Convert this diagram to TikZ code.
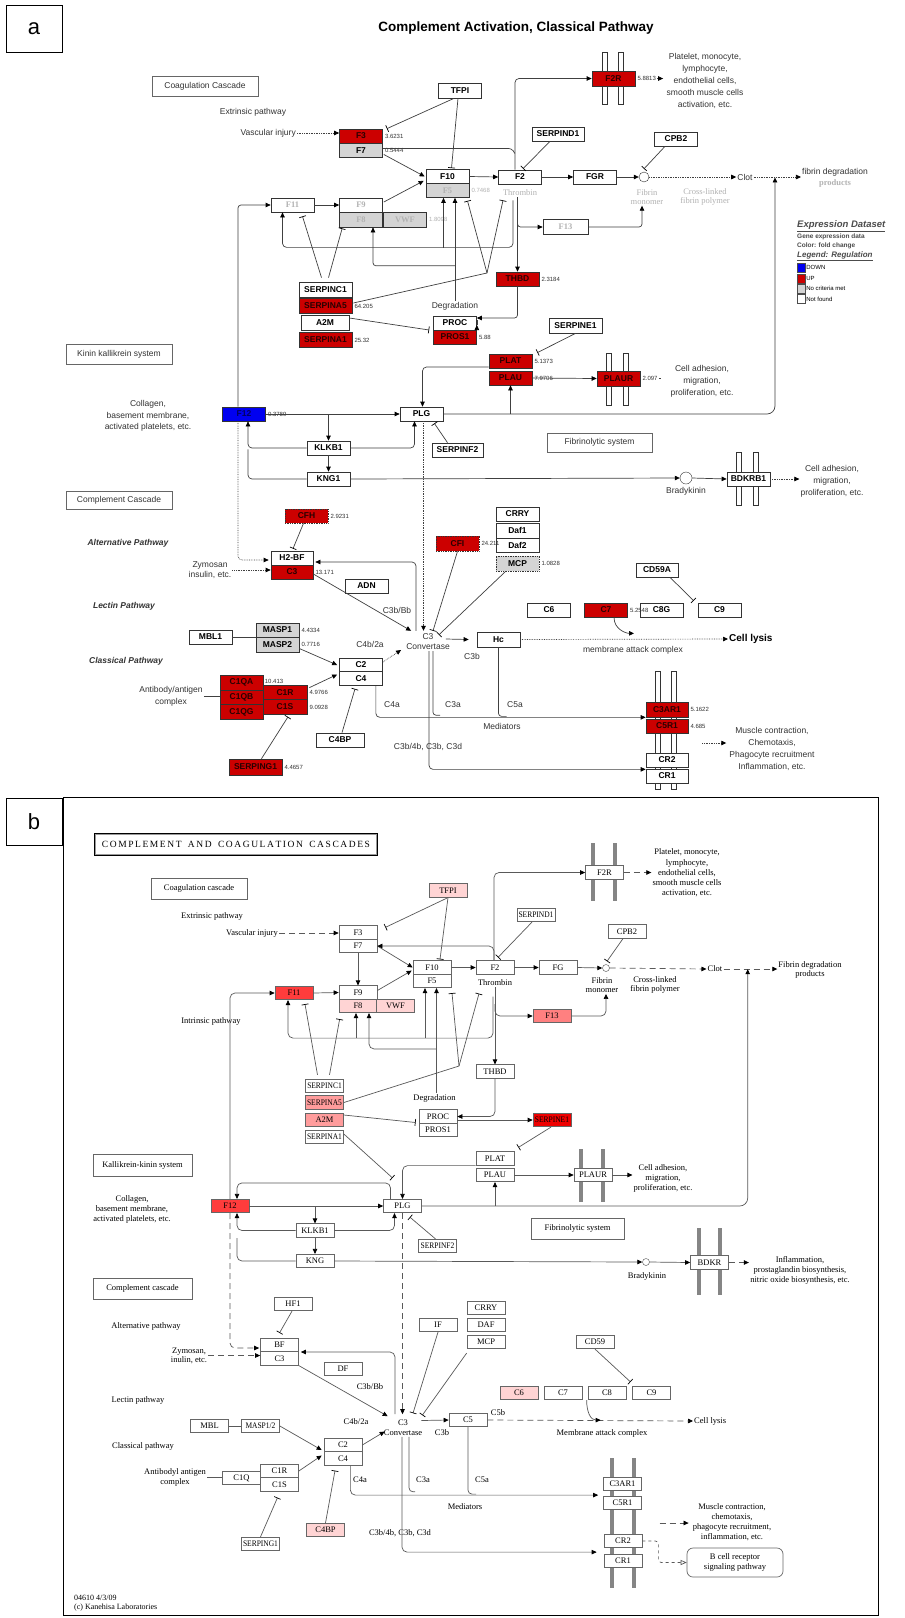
\documentclass[tikz,border=0pt]{standalone}
\usepackage{fontspec}
\setmainfont{Liberation Serif}
\setsansfont{Liberation Sans}
\usepackage{graphicx}
\usetikzlibrary{calc,arrows.meta,positioning}
\definecolor{upred}{HTML}{CC0000}
\definecolor{dnblue}{HTML}{0000F0}
\definecolor{ncgray}{HTML}{D4D4D4}
\definecolor{pkone}{HTML}{FFD4D4}
\definecolor{pktwo}{HTML}{FF9C9C}
\definecolor{pkthree}{HTML}{FF8080}
\definecolor{rdone}{HTML}{FF3C3C}
\definecolor{rdtwo}{HTML}{EE0000}
\definecolor{membar}{HTML}{858585}
\newcommand\fntA{\sffamily\fontsize{8.5}{11}\selectfont}
\newcommand\fntAb{\sffamily\bfseries\fontsize{8.5}{10}\selectfont}
\newcommand\fntV{\sffamily\fontsize{6}{7}\selectfont}
\newcommand\fntB{\rmfamily\fontsize{8.5}{9.6}\selectfont}
\newcommand\sqz[1]{\scalebox{0.88}[1]{#1}}
\tikzset{
  ga/.style={draw=black!80, fill=white, line width=0.7pt, font=\fntAb, text=black,
    minimum width=43pt, minimum height=14pt, inner sep=0pt},
  upreg/.style={fill=upred, text=black!80!upred},
  ncrit/.style={fill=ncgray},
  dnreg/.style={fill=dnblue, text=black!60!dnblue},
  dots/.style={densely dotted},
  garb/.style={text=gray!60, font=\rmfamily\bfseries\fontsize{8.5}{10}\selectfont},
  val/.style={font=\fntV, anchor=west, inner sep=1pt, xshift=1pt, text=black!80},
  atx/.style={font=\fntA, align=center, inner sep=1pt, text=black!80},
  sec/.style={draw=black!60, line width=0.7pt, font=\fntA, text=black!80, inner sep=0pt},
  mema/.style={draw=black!80, fill=white, line width=0.7pt},
  aln/.style={draw=black!75, line width=0.7pt},
  adot/.style={aln, densely dotted},
  act/.style={-{Triangle[length=5pt,width=4.5pt,color=black]}},
  inh/.style={-{Bar[width=7pt,color=black]}},
  gb/.style={draw=black!60, fill=white, line width=0.7pt, font=\fntB,
    minimum width=38pt, minimum height=13.5pt, inner sep=0pt},
  pkA/.style={fill=pkone}, pkB/.style={fill=pktwo}, pkC/.style={fill=pkthree},
  rdA/.style={fill=rdone}, rdB/.style={fill=rdtwo},
  btx/.style={font=\fntB, align=center, inner sep=1pt},
  bsec/.style={draw=black!60, line width=0.7pt, font=\fntB, inner sep=0pt},
  bln/.style={draw=black!65, line width=0.7pt},
  bdash/.style={bln, dash pattern=on 6pt off 4pt},
  memb/.style={fill=membar},
  lgh/.style={anchor=west, inner sep=0pt, text=gray!60!black},
  tagbox/.style={draw, line width=1pt, minimum width=56pt, minimum height=47pt,
    font=\sffamily\fontsize{22}{22}\selectfont}
}
\begin{document}
\begin{tikzpicture}[x=1pt,y=-1pt]
\fill[white] (0,0) rectangle (905,1618);
\useasboundingbox (0,0) rectangle (905,1618);

% ---------- panel a ----------
\node[tagbox] (aTag) at (34,28.5) {a};
\node[font=\sffamily\bfseries\fontsize{13.5}{14}\selectfont] (aTitle) at (516,28) {Complement Activation, Classical Pathway};

\foreach \x in {602,618} \draw[mema] (\x,52) rectangle ++(5,52);
\foreach \x in {606,623} \draw[mema] (\x,353) rectangle ++(5,52);
\foreach \x in {736,753} \draw[mema] (\x,452) rectangle ++(5,53);
\foreach \x in {655,671} \draw[mema] (\x,671) rectangle ++(5,118);

\node[sec, minimum width=106, minimum height=20] (aCoag) at (205,86) {Coagulation Cascade};
\node[sec, minimum width=106, minimum height=20] (aKin) at (119,354) {Kinin kallikrein system};
\node[sec, minimum width=105, minimum height=19] (aFibS) at (599.5,442.5) {Fibrinolytic system};
\node[sec, minimum width=106, minimum height=18] (aComp) at (119,500) {Complement Cascade};

\node[ga,upreg] (aF3) at (361,136) {F3};
\node[ga,ncrit] (aF7) at (361,150.5) {F7};
\node[ga,minimum height=15] (aTFPI) at (460,90.5) {TFPI};
\node[ga] (aF10) at (447.5,176.5) {F10};
\node[ga,ncrit,garb] (aF5) at (447.5,190.5) {F5};
\node[ga] (aF2) at (520,177) {F2};
\node[ga] (aFGR) at (595,177) {FGR};
\node[ga,minimum width=52] (aSERPIND1) at (558,134) {SERPIND1};
\node[ga] (aCPB2) at (676,139) {CPB2};
\node[ga,upreg,minimum height=15] (aF2R) at (613.5,78.5) {F2R};
\node[circle,draw=black!80,fill=white,minimum size=10pt,inner sep=0pt] (aFib) at (644,177) {};
\node[ga,garb] (aF11) at (292.5,205) {F11};
\node[ga,garb] (aF9) at (361,205) {F9};
\node[ga,ncrit,garb,minimum height=15] (aF8) at (361,219.5) {F8};
\node[ga,ncrit,garb,minimum height=15] (aVWF) at (405,219.5) {VWF};
\node[ga,garb,minimum width=45,minimum height=15] (aF13) at (565.5,227) {F13};
\node[ga,minimum width=53,minimum height=15] (aSERPINC1) at (325.5,289.5) {SERPINC1};
\node[ga,upreg,minimum width=53,minimum height=15] (aSERPINA5) at (325.5,306) {SERPINA5};
\node[ga,minimum width=48,minimum height=15] (aA2M) at (325,323) {A2M};
\node[ga,upreg,minimum width=53,minimum height=15] (aSERPINA1) at (325.5,340) {SERPINA1};
\node[ga,upreg] (aTHBD) at (517.5,279) {THBD};
\node[ga] (aPROC) at (455,323) {PROC};
\node[ga,upreg] (aPROS1) at (455,337) {PROS1};
\node[ga,minimum width=53,minimum height=15] (aSERPINE1) at (575.5,325.5) {SERPINE1};
\node[ga,upreg] (aPLAT) at (510.5,361) {PLAT};
\node[ga,upreg] (aPLAU) at (510.5,378) {PLAU};
\node[ga,upreg,minimum height=15] (aPLAUR) at (618.5,378.5) {PLAUR};
\node[ga,dnreg] (aF12) at (244,414) {F12};
\node[ga] (aPLG) at (421.5,414) {PLG};
\node[ga] (aKLKB1) at (328.5,448) {KLKB1};
\node[ga] (aKNG1) at (328.5,479) {KNG1};
\node[ga,minimum width=51] (aSERPINF2) at (457.5,450) {SERPINF2};
\node[circle,draw=black!80,fill=white,minimum size=12pt,inner sep=0pt] (aBrad) at (686,478) {};
\node[ga] (aBDKRB1) at (748.5,479) {BDKRB1};
\node[ga,upreg,dots] (aCFH) at (306.5,516) {CFH};
\node[ga,minimum width=42] (aH2BF) at (292,558) {H2-BF};
\node[ga,upreg,minimum width=42] (aC3) at (292,572) {C3};
\node[ga] (aADN) at (366.5,586) {ADN};
\node[ga,upreg,dots,minimum height=15] (aCFI) at (457.5,543.5) {CFI};
\node[ga] (aCRRY) at (517.5,514) {CRRY};
\node[ga,minimum height=15] (aDaf1) at (517.5,530.5) {Daf1};
\node[ga] (aDaf2) at (517.5,545) {Daf2};
\node[ga,ncrit,dots,minimum height=15] (aMCP) at (517.5,563.5) {MCP};
\node[ga,minimum height=15] (aHc) at (498.5,639.5) {Hc};
\node[ga] (aC6) at (549,610) {C6};
\node[ga,upreg] (aC7) at (606,610) {C7};
\node[ga] (aC8G) at (661.5,610) {C8G};
\node[ga] (aC9) at (719.5,610) {C9};
\node[ga,minimum width=42] (aCD59A) at (657,570) {CD59A};
\node[ga] (aMBL1) at (210.5,637) {MBL1};
\node[ga,ncrit] (aMASP1) at (277.5,630) {MASP1};
\node[ga,ncrit,minimum height=15] (aMASP2) at (277.5,644.5) {MASP2};
\node[ga] (aC2) at (361,665) {C2};
\node[ga] (aC4) at (361,678.5) {C4};
\node[ga,upreg,minimum height=15] (aC1QA) at (241.5,682.5) {C1QA};
\node[ga,upreg,minimum height=15] (aC1QB) at (241.5,697.5) {C1QB};
\node[ga,upreg,minimum height=15] (aC1QG) at (241.5,712) {C1QG};
\node[ga,upreg,minimum width=44,minimum height=15] (aC1R) at (285,692.5) {C1R};
\node[ga,upreg,minimum width=44,minimum height=15] (aC1S) at (285,707) {C1S};
\node[ga,upreg,minimum width=53,minimum height=16] (aSERPING1) at (255.5,767) {SERPING1};
\node[ga,minimum width=48] (aC4BP) at (340,740) {C4BP};
\node[ga,upreg,minimum width=42,minimum height=15] (aC3AR1) at (667,709.5) {C3AR1};
\node[ga,upreg,minimum width=42] (aC5R1) at (667,726) {C5R1};
\node[ga,minimum width=42] (aCR2) at (667,760) {CR2};
\node[ga,minimum width=42] (aCR1) at (667,776) {CR1};

\node[val] (vF3) at (aF3.east) {3.6231};
\node[val] (vF7) at (aF7.east) {0.5444};
\node[val,text=gray!60] (vF5) at (aF5.east) {0.7468};
\node[val,text=gray!60] (vVWF) at (aVWF.east) {1.8098};
\node[val] (vF2R) at (aF2R.east) {5.8813};
\node[val] (vTHBD) at (aTHBD.east) {2.3184};
\node[val] (vSERPINA5) at (aSERPINA5.east) {64.205};
\node[val] (vSERPINA1) at (aSERPINA1.east) {25.32};
\node[val] (vPROS1) at (aPROS1.east) {5.88};
\node[val] (vPLAT) at (aPLAT.east) {5.1373};
\node[val] (vPLAUR) at (aPLAUR.east) {2.097};
\node[val] (vF12) at (aF12.east) {0.3789};
\node[val] (vCFH) at (aCFH.east) {2.9231};
\node[val] (vC3) at (aC3.east) {13.171};
\node[val] (vCFI) at (aCFI.east) {24.211};
\node[val] (vMCP) at (aMCP.east) {1.0828};
\node[val] (vC7) at (aC7.east) {5.2548};
\node[val] (vMASP1) at (aMASP1.east) {4.4334};
\node[val] (vMASP2) at (aMASP2.east) {0.7716};
\node[val,anchor=south west] (vC1QA) at (aC1R.north west) {10.413};
\node[val] (vC1R) at (aC1R.east) {4.9766};
\node[val] (vC1S) at (aC1S.east) {9.0928};
\node[val] (vSERPING1) at (aSERPING1.east) {4.4657};
\node[val] (vC3AR1) at (aC3AR1.east) {5.1622};
\node[val] (vC5R1) at (aC5R1.east) {4.685};

\node[atx] (aExt) at (253,112) {Extrinsic pathway};
\node[atx,anchor=east] (aVI) at (297,133) {Vascular injury};
\node[atx,garb,font=\rmfamily\fontsize{8.5}{9}\selectfont] (aThr) at (520,193) {Thrombin};
\node[atx,garb,font=\rmfamily\fontsize{8.5}{9}\selectfont] (aFibT) at (647,197) {Fibrin\\monomer};
\node[atx,garb,font=\rmfamily\fontsize{8.5}{9}\selectfont] (aXL) at (705,197) {Cross-linked\\fibrin polymer};
\node[atx] (aClot) at (745,177) {Clot};
\node[atx,font=\sffamily\fontsize{8.5}{11}\selectfont] (aFDP) at (835,178) {fibrin degradation\\{\color{gray!60}\rmfamily\bfseries products}};
\node[atx,font=\sffamily\fontsize{8.5}{12}\selectfont] (aPlt) at (705,81) {Platelet, monocyte,\\lymphocyte,\\endothelial cells,\\smooth muscle cells\\activation, etc.};
\node[atx] (aDeg) at (455,306) {Degradation};
\node[atx,font=\sffamily\fontsize{8.5}{11.5}\selectfont] (aCol) at (148,416) {Collagen,\\basement membrane,\\activated platelets, etc.};
\node[atx] (aBradT) at (686,491) {Bradykinin};
\node[atx,font=\sffamily\fontsize{8.5}{12}\selectfont] (aCA1) at (702,381) {Cell adhesion,\\migration,\\proliferation, etc.};
\node[atx,font=\sffamily\fontsize{8.5}{12}\selectfont] (aCA2) at (832,481) {Cell adhesion,\\migration,\\proliferation, etc.};
\node[atx,font=\sffamily\bfseries\itshape\fontsize{8.5}{10}\selectfont] (aAlt) at (128,543) {Alternative Pathway};
\node[atx,font=\sffamily\bfseries\itshape\fontsize{8.5}{10}\selectfont] (aLec) at (124,606) {Lectin Pathway};
\node[atx,font=\sffamily\bfseries\itshape\fontsize{8.5}{10}\selectfont] (aCla) at (126,661) {Classical Pathway};
\node[atx,font=\sffamily\fontsize{8.5}{10}\selectfont] (aZym) at (210,570) {Zymosan\\insulin, etc.};
\node[atx] (aC3bBb) at (397,610) {C3b/Bb};
\node[atx] (aC4b2a) at (370,644) {C4b/2a};
\node[atx,font=\sffamily\fontsize{8.5}{10}\selectfont] (aConv) at (428,642) {C3\\Convertase};
\node[atx] (aC3b) at (472,656) {C3b};
\node[atx,anchor=west,font=\sffamily\bfseries\fontsize{10}{11}\selectfont,text=black] (aLysis) at (728,639) {Cell lysis};
\node[atx] (aMAC) at (633,650) {membrane attack complex};
\node[atx,font=\sffamily\fontsize{8.5}{12}\selectfont] (aAb) at (171,696) {Antibody/antigen\\complex};
\node[atx] (aC4a) at (392,705) {C4a};
\node[atx] (aC3a) at (453,705) {C3a};
\node[atx] (aC5a) at (515,705) {C5a};
\node[atx] (aMed) at (502,726) {Mediators};
\node[atx] (aC3d) at (428,747) {C3b/4b, C3b, C3d};
\node[atx,font=\sffamily\fontsize{8.5}{12}\selectfont] (aMus) at (772,749) {Muscle contraction,\\Chemotaxis,\\Phagocyte recruitment\\Inflammation, etc.};

% legend
\node[lgh,font=\sffamily\bfseries\itshape\fontsize{9.5}{10}\selectfont] (aLg1) at (797,226) {\underline{Expression Dataset}};
\node[lgh,font=\sffamily\bfseries\fontsize{6.5}{7}\selectfont] (aLg2) at (797,237) {Gene expression data};
\node[lgh,font=\sffamily\bfseries\fontsize{6.5}{7}\selectfont] (aLg3) at (797,246) {Color: fold change};
\node[lgh,font=\sffamily\bfseries\itshape\fontsize{8}{9}\selectfont] (aLg4) at (797,256) {\underline{Legend: Regulation}};
\foreach \c/\t [count=\i] in {dnblue/DOWN, upred/UP, ncgray/No criteria met, white/Not found} {
  \node[draw=black!70, fill=\c, minimum width=8pt, minimum height=9pt, inner sep=0pt] (aLk\i) at (801,257.5+10.4*\i) {};
  \node[right=1pt of aLk\i, inner sep=0pt, font=\sffamily\fontsize{6}{6}\selectfont] (aLt\i) {\t};
}

% connectors a
\draw[adot,act] (aVI.east) -- (aVI.east -| aF3.west);
\draw[aln,inh] ($(aTFPI.south)+(-6,0)$) -- ($(aF3.north east)+(4,0)$);
\draw[aln,inh] ($(aTFPI.south)+(-2,0)$) -- ($(aF10.north)+(4,-1)$);
\draw[aln,act] ($(aF7.east)+(1,4)$) -- ($(aF10.west)+(-1,0)$);
\draw[aln,rounded corners=3] ($(aF7.east)+(0,-2)$) -- ++(129,0) -- ++(3,5);
\draw[aln,act,rounded corners=4] ($(aF2.north)+(-5,0)$) |- (aF2R.west);
\draw[aln,act] (aF10.east) -- (aF2.west);
\draw[aln,act] (aF2.east) -- (aFGR.west);
\draw[aln,act] (aFGR.east) -- (aFib.west);
\draw[aln,inh] ($(aSERPIND1.south)+(-8,0)$) -- ($(aF2.north)+(3,-1)$);
\draw[aln,inh] ($(aCPB2.south)+(-11,0)$) -- ($(aFib.north)+(0,-3)$);
\draw[adot,act] (aFib.east) -- (aClot.west);
\coordinate (aClotJ) at ($(aClot.east)!0.45!(aFDP.west)$);
\draw[adot,act] (aClot.east) -- (aFDP.west |- aClot.east);
\draw[aln,act] ($(vF2R.east)+(0,0)$) -- ++(6,0);
\draw[aln,act] (aF11.east) -- (aF9.west);
\draw[aln,act] ($(aF9.east)+(1,-3)$) -- ($(aF10.south west)+(-2,-3)$);
\draw[aln,act,rounded corners=3] ($(aF12.north)+(-6,0)$) |- (aF11.west);
\draw[aln,act,rounded corners=4] ($(aF2.south)+(-7,16)$) |- ($(aF11.south)+(-10,35)$) -- ($(aF11.south)+(-10,0)$);
\draw[aln,act] ($(aF5.south)+(-4,50)$) -- ($(aF5.south)+(-4,0)$);
\draw[aln,act] (aDeg.north) -- (aDeg.north |- aF5.south);
\draw[aln,act,rounded corners=3] ($(aDeg.north)+(0,-35)$) -| ($(aF8.south)+(12,0)$);
\draw[aln,act,rounded corners=3] ($(aTHBD.north |- aF13.west)+(0,-9)$) |- (aF13.west);
\draw[aln,act,rounded corners=3] (aF13.east) -| ($(aFibT.south)+(-5,0)$);
\draw[aln,inh] ($(aSERPINC1.north)+(-4,-4)$) -- ($(aF11.south)+(10,4)$);
\draw[aln,inh] ($(aSERPINC1.north)+(3,-4)$) -- ($(aF8.south west)+(3,1)$);
\coordinate (aV) at (487,273);
\draw[aln] ($(aSERPINA5.east)+(1,-3)$) -- (aV);
\draw[aln,inh] (aV) -- ($(aF5.south)+(20,3)$);
\draw[aln,inh] (aV) -- ($(aF2.south)+(-17,16)$);
\draw[aln,inh] ($(aA2M.east)+(0,-5)$) -- ($(aPROS1.west)+(-4,-7)$);
\draw[aln,act] (aThr.south -| aTHBD.north) -- (aTHBD.north);
\draw[aln,act,rounded corners=3] (aTHBD.south) |- ($(aPROC.east)+(0,-5)$);
\draw[aln,act] ($(aPROC.east)+(0,2)$) -- ($(aPROC.east)+(0,2)$ -| aSERPINE1.west);
\draw[aln,inh] (aSERPINE1.south) -- ($(aPLAT.north east)+(5,-1)$);
\draw[aln,act] (aPLAU.east) -- (aPLAUR.west);
\node[val] (vPLAU) at (aPLAU.east) {7.9706};
\draw[adot] (vPLAUR.east) -- ++(3,0);
\draw[aln,act] (aF12.east) -- (aPLG.west);
\draw[aln,act,rounded corners=3] (aKLKB1.north |- aF12.east) -- (aKLKB1.north);
\draw[aln,act,rounded corners=4] (aKLKB1.west) -| ($(aF12.south)+(4,0)$);
\draw[aln,act,rounded corners=4] (aKLKB1.east) -| ($(aPLG.south)+(-7,0)$);
\draw[aln,act] (aKLKB1.south) -- (aKNG1.north);
\draw[aln,rounded corners=4] (aKNG1.west) -| ($(aF12.south)+(4,28)$);
\draw[aln,act] (aKNG1.east) -- (aBrad.west);
\draw[aln,act] (aBrad.east) -- (aBDKRB1.west);
\draw[adot,act] (aBDKRB1.east) -- (aCA2.west |- aBDKRB1.east);
\draw[aln,inh] ($(aSERPINF2.north)+(-10,0)$) -- ($(aPLG.south east)+(-9,2)$);
\draw[aln,act,rounded corners=4] ($(aPLAT.west)+(0,6)$) -| ($(aPLG.north)+(1,0)$);
\draw[aln,act,rounded corners=8] (aPLG.east) -| (aClotJ);
\draw[aln,act] (aPLAU.south |- aPLG.east) -- (aPLAU.south);
\draw[adot,act] ($(aPLG.south)+(2,0)$) -- ($(aPLG.south |- aConv.north)+(2,-2)$);
\draw[adot,act,rounded corners=4] ($(aF12.south)+(-6,0)$) |- ($(aH2BF.west)+(-2,2)$);
\draw[adot,act] (aZym.east) -- (aZym.east -| aC3.west);
\draw[aln,inh] ($(aCFH.south)+(-3,0)$) -- ($(aH2BF.north)+(1,-2)$);
\draw[aln,act] ($(aC3.east)+(0,2)$) -- ($(aConv.north west)+(6,-2)$);
\draw[aln,act,rounded corners=4] ($(aConv.north)+(-12,-2)$) |- ($(aH2BF.east)+(2,4)$);
\draw[aln,inh] (aCFI.south) -- ($(aConv.north)+(5,-2)$);
\draw[aln,inh] ($(aMCP.south west)+(10,0)$) -- ($(aConv.north east)+(-12,2)$);
\draw[aln,act] ($(aConv.east)+(-5,-3)$) -- ($(aHc.west)+(-8,0)$);
\draw[adot,act] (aHc.east) -- (aLysis.west);
\draw[aln,act] ($(aC7.south)+(8,0)$) .. controls +(0,12) and +(-8,0) .. ($(aC7.south)+(28,16)$);
\draw[aln,inh] ($(aCD59A.south)+(13,0)$) -- ($(aC9.north west)+(-4,-2)$);
\draw[aln] (aMBL1.east) -- (aMBL1.east -| aMASP1.west);
\draw[aln,act] ($(aMASP2.east)+(0,4)$) -- ($(aC2.west)+(-2,0)$);
\draw[aln,act] ($(aC1R.north east)+(2,3)$) -- ($(aC4.west)+(-2,-4)$);
\draw[aln,inh] ($(aSERPING1.north)+(6,0)$) -- ($(aC1S.south)+(3,2)$);
\draw[aln,inh] ($(aC4BP.north)+(2,0)$) -- ($(aC4.south)+(-6,3)$);
\draw[aln] (aAb.east) -- (aAb.east -| aC1QB.west);
\draw[adot,act] ($(aC2.east)+(0,-3)$) -- ($(aConv.west)+(-4,8)$);
\draw[aln,act,rounded corners=4] ($(aC4.south east)+(-7,0)$) |- (aC3AR1.south west);
\draw[aln,rounded corners=3] ($(aConv.south)+(5,0)$) |- ($(aConv.south)+(12,64)$);
\draw[aln,rounded corners=3] (aHc.south) |- ($(aHc.south)+(8,69)$);
\draw[aln,act,rounded corners=4] ($(aConv.south)+(1,0)$) |- ($(aCR2.south west)+(0,2)$);
\draw[adot,act] ($(aMus.west)+(-26,-6)$) -- ($(aMus.west)+(-2,-6)$);

% ---------- panel b ----------
\node[tagbox] (bTag) at (34,821.5) {b};
\draw[line width=0.9pt] (63,797) rectangle (878,1615);
\node[draw, line width=2pt, minimum width=282pt, minimum height=21pt,
  font=\rmfamily\fontsize{9.5}{10}\selectfont] (bTitle) at (236,844.5) {C\,O\,M\,P\,L\,E\,M\,E\,N\,T\,\ \ A\,N\,D\,\ \ C\,O\,A\,G\,U\,L\,A\,T\,I\,O\,N\,\ \ C\,A\,S\,C\,A\,D\,E\,S};
\draw[black!40, line width=0.5pt] ($(bTitle.north west)+(1.6,1.6)$) rectangle ($(bTitle.south east)+(-1.6,-1.6)$);

\foreach \x in {591,613} \fill[memb] (\x,843) rectangle ++(4,58);
\foreach \x in {579,601} \fill[memb] (\x,1149) rectangle ++(4,53);
\foreach \x in {697,718} \fill[memb] (\x,1228) rectangle ++(4,67);
\foreach \x in {610,632} \fill[memb] (\x,1458) rectangle ++(4,130);

\node[bsec, minimum width=96, minimum height=21] (bCoag) at (199,888.5) {Coagulation cascade};
\node[bsec, minimum width=99, minimum height=22] (bKin) at (142.5,1165) {Kallikrein-kinin system};
\node[bsec, minimum width=93, minimum height=21] (bFibS) at (577.5,1228.5) {Fibrinolytic system};
\node[bsec, minimum width=99, minimum height=21] (bComp) at (142.5,1288.5) {Complement cascade};

\node[gb] (bF3) at (358,932.5) {F3};
\node[gb] (bF7) at (358,946) {F7};
\node[gb,pkA] (bTFPI) at (448,890.5) {TFPI};
\node[gb] (bF10) at (432,967.5) {F10};
\node[gb] (bF5) at (432,981) {F5};
\node[gb] (bF2) at (495,967.5) {F2};
\node[gb] (bFG) at (558,967.5) {FG};
\node[gb] (bSERPIND1) at (536,915) {\sqz{SERPIND1}};
\node[gb] (bCPB2) at (627,931.5) {CPB2};
\node[gb] (bF2R) at (604.5,872.5) {F2R};
\node[circle,draw=black!70,fill=white,minimum size=7pt,inner sep=0pt] (bFib) at (606,968) {};
\node[gb] (bF9) at (358,992.5) {F9};
\node[gb,pkA] (bF8) at (358,1006) {F8};
\node[gb,pkA] (bVWF) at (395.5,1006) {VWF};
\node[gb,rdA] (bF11) at (294,993) {F11};
\node[gb,pkC] (bF13) at (552,1016) {F13};
\node[gb] (bTHBD) at (495,1071.5) {THBD};
\node[gb] (bSERPINC1) at (324.5,1086) {\sqz{SERPINC1}};
\node[gb,pkB] (bSERPINA5) at (324.5,1102.5) {\sqz{SERPINA5}};
\node[gb,pkB] (bA2M) at (324.5,1120) {A2M};
\node[gb] (bSERPINA1) at (324.5,1137) {\sqz{SERPINA1}};
\node[gb] (bPROC) at (438,1116.5) {PROC};
\node[gb] (bPROS1) at (438,1130) {PROS1};
\node[gb,rdB] (bSERPINE1) at (552,1120) {\sqz{SERPINE1}};
\node[gb] (bPLAT) at (495,1158.5) {PLAT};
\node[gb] (bPLAU) at (495,1175) {PLAU};
\node[gb] (bPLAUR) at (593,1175) {PLAUR};
\node[gb,rdA] (bF12) at (230,1206) {F12};
\node[gb] (bPLG) at (402.5,1206) {PLG};
\node[gb] (bKLKB1) at (315,1230.5) {KLKB1};
\node[gb] (bKNG) at (315,1261) {KNG};
\node[gb] (bSERPINF2) at (437.5,1246) {\sqz{SERPINF2}};
\node[circle,draw=black!70,fill=white,minimum size=7pt,inner sep=0pt] (bBrad) at (646,1262) {};
\node[gb] (bBDKR) at (709.5,1262.5) {BDKR};
\node[gb] (bHF1) at (293,1304) {HF1};
\node[gb] (bBF) at (279.5,1345) {BF};
\node[gb] (bC3) at (279.5,1358.5) {C3};
\node[gb] (bDF) at (343,1369) {DF};
\node[gb] (bIF) at (438,1325) {IF};
\node[gb] (bCRRY) at (486,1308) {CRRY};
\node[gb] (bDAF) at (486,1325) {DAF};
\node[gb] (bMCP) at (486,1342) {MCP};
\node[gb] (bC5) at (468,1420) {C5};
\node[gb,pkA] (bC6) at (519,1393) {C6};
\node[gb] (bC7) at (563,1393) {C7};
\node[gb] (bC8) at (607,1393) {C8};
\node[gb] (bC9) at (651.5,1393) {C9};
\node[gb] (bCD59) at (595,1342) {CD59};
\node[gb] (bMBL) at (209.5,1426) {MBL};
\node[gb] (bMASP) at (260.5,1426) {\sqz{MASP1/2}};
\node[gb] (bC2) at (343,1445) {C2};
\node[gb] (bC4) at (343,1458.5) {C4};
\node[gb] (bC1Q) at (241.5,1478) {C1Q};
\node[gb] (bC1R) at (279.5,1471) {C1R};
\node[gb] (bC1S) at (279.5,1484.5) {C1S};
\node[gb] (bSERPING1) at (260.5,1544) {\sqz{SERPING1}};
\node[gb,pkA] (bC4BP) at (325.5,1530) {C4BP};
\node[gb] (bC3AR1) at (622.5,1484) {C3AR1};
\node[gb] (bC5R1) at (622.5,1503) {C5R1};
\node[gb] (bCR2) at (623,1541) {CR2};
\node[gb] (bCR1) at (623,1561) {CR1};
\node[draw=black!60, line width=0.7pt, rounded corners=6pt, minimum width=96pt, minimum height=29pt,
  font=\fntB, align=center, inner sep=0pt] (bBcell) at (735,1562.5) {B cell receptor\\signaling pathway};

\node[btx] (bExt) at (212,916) {Extrinsic pathway};
\node[btx,anchor=east] (bVI) at (279,933) {Vascular injury};
\node[btx] (bInt) at (211,1021) {Intrinsic pathway};
\node[btx] (bThr) at (495,983) {Thrombin};
\node[btx,font=\rmfamily\fontsize{8.5}{9.5}\selectfont] (bFibT) at (602,985) {Fibrin\\monomer};
\node[btx,font=\rmfamily\fontsize{8.5}{9.5}\selectfont] (bXL) at (655,985) {Cross-linked\\fibrin polymer};
\node[btx] (bClot) at (715,969) {Clot};
\node[btx,font=\rmfamily\fontsize{8.5}{9}\selectfont] (bFDP) at (810,969.5) {Fibrin degradation\\products};
\node[btx,font=\rmfamily\fontsize{8.5}{10.2}\selectfont] (bPlt) at (687,873) {Platelet, monocyte,\\lymphocyte,\\endothelial cells,\\smooth muscle cells\\activation, etc.};
\node[btx] (bDeg) at (434.5,1098) {Degradation};
\node[btx,font=\rmfamily\fontsize{8.5}{10}\selectfont] (bCA) at (663,1178) {Cell adhesion,\\migration,\\proliferation, etc.};
\node[btx,font=\rmfamily\fontsize{8.5}{10}\selectfont] (bCol) at (132,1209) {Collagen,\\basement membrane,\\activated platelets, etc.};
\node[btx] (bBradT) at (647,1276) {Bradykinin};
\node[btx,font=\rmfamily\fontsize{8.5}{10}\selectfont] (bInf) at (800,1270) {Inflammation,\\prostaglandin biosynthesis,\\nitric oxide biosynthesis, etc.};
\node[btx] (bAlt) at (146,1326) {Alternative pathway};
\node[btx] (bLec) at (138,1400) {Lectin pathway};
\node[btx] (bCla) at (143,1446) {Classical pathway};
\node[btx,font=\rmfamily\fontsize{8.5}{9}\selectfont] (bZym) at (189,1355.5) {Zymosan,\\inulin, etc.};
\node[btx] (bC3bBb) at (370,1387) {C3b/Bb};
\node[btx] (bC4b2a) at (356,1422) {C4b/2a};
\node[btx,font=\rmfamily\fontsize{8.5}{10.5}\selectfont] (bConv) at (403,1427.5) {C3\\Convertase};
\node[btx] (bC3b) at (442,1433) {C3b};
\node[btx] (bC5b) at (498,1413) {C5b};
\node[btx,anchor=west] (bLysis) at (693,1421) {Cell lysis};
\node[btx] (bMAC) at (602,1433) {Membrane attack complex};
\node[btx,font=\rmfamily\fontsize{8.5}{10}\selectfont] (bAb) at (175,1477) {Antibodyl antigen\\complex};
\node[btx] (bC4a) at (360,1480) {C4a};
\node[btx] (bC3a) at (423,1480) {C3a};
\node[btx] (bC5a) at (482,1480) {C5a};
\node[btx] (bMed) at (465,1507) {Mediators};
\node[btx] (bC3d) at (400,1533) {C3b/4b, C3b, C3d};
\node[btx,font=\rmfamily\fontsize{8.5}{10}\selectfont] (bMus) at (732,1522) {Muscle contraction,\\chemotaxis,\\phagocyte recruitment,\\inflammation, etc.};
\node[btx,anchor=west,align=left,font=\rmfamily\fontsize{8}{9.5}\selectfont] (bFoot) at (73,1603) {04610 4/3/09\\(c) Kanehisa Laboratories};

% connectors b
\draw[bdash,act] (bVI.east) -- (bVI.east -| bF3.west);
\draw[bln,inh] (bTFPI.south) -- ($(bF3.north east)+(8,2)$);
\draw[bln,inh] (bTFPI.south) -- ($(bF10.north)+(8,-1)$);
\draw[bln,act] (bF7.east) -- (bF10.west);
\draw[bln,act,rounded corners=5] ($(bF2.north)+(-1,0)$) |- (bF2R.west);
\draw[bln,act,rounded corners=5] ($(bF2.north)+(-1,0)$) |- (bF7.east);
\draw[bln,act] (bF10.east) -- (bF2.west);
\draw[bln,act] (bF2.east) -- (bFG.west);
\draw[bln,act] (bFG.east) -- (bFib.west);
\draw[bln,inh] ($(bSERPIND1.south)+(-4,0)$) -- ($(bF2.north)+(3,-3)$);
\draw[bln,inh] ($(bCPB2.south)+(-4,0)$) -- ($(bFib.north)+(1,-3)$);
\draw[bdash,act] (bFib.east) -- (bClot.west);
\coordinate (bClotJ) at ($(bClot.east)!0.45!(bFDP.west)$);
\draw[bdash,act] (bClot.east) -- (bFDP.west |- bClot.east);
\draw[bdash,act] (bF2R.east) -- (bPlt.west |- bF2R.east);
\draw[bln,act] (bF7.south) -- (bF9.north);
\draw[bln,act] ($(bF9.east)+(0,-2)$) -- ($(bF10.south west)+(-1,-4)$);
\draw[bln,act] (bF11.east) -- (bF9.west);
\draw[bln,act,rounded corners=5] (bF12.north) |- (bF11.west);
\draw[bln,act,rounded corners=5] ($(bF2.south)+(-2,22)$) |- ($(bF11.south)+(-6,38)$) -- ($(bF11.south)+(-6,0)$);
\draw[bln,act] ($(bF8.south)+(-2,25)$) -- ($(bF8.south)+(-2,0)$);
\draw[bln,act] ($(bF5.south)+(-7,50)$) -- ($(bF5.south)+(-7,0)$);
\draw[bln,act] ($(bDeg.north)+(2,0)$) -- ($(bDeg.north |- bF5.south)+(2,0)$);
\draw[bln,act,rounded corners=5] ($(bDeg.north)+(2,-44)$) -| ($(bF8.south)+(11,0)$);
\draw[bln,act,rounded corners=5] ($(bTHBD.north |- bF13.west)+(0,-12)$) |- (bF13.west);
\draw[bln,act,rounded corners=5] (bF13.east) -| ($(bFibT.south)+(4,0)$);
\draw[bln,inh] ($(bSERPINC1.north)+(-7,-4)$) -- ($(bF11.south)+(11,4)$);
\draw[bln,inh] ($(bSERPINC1.north)+(5,-4)$) -- ($(bF8.south west)+(1,6)$);
\coordinate (bV) at (459,1066);
\draw[bln] (bSERPINA5.east) -- (bV);
\draw[bln,inh] (bV) -- ($(bF5.south)+(20,5)$);
\draw[bln,inh] (bV) -- ($(bF2.south)+(-16,19)$);
\draw[bln,inh] ($(bA2M.east)+(0,-5)$) -- ($(bPROC.west)+(-3,6)$);
\draw[bln,act] (bThr.south -| bTHBD.north) -- (bTHBD.north);
\draw[bln,act,rounded corners=5] (bTHBD.south) |- (bPROC.east);
\draw[bln,act] ($(bPROC.east)+(0,3.5)$) -- (bSERPINE1.west);
\draw[bln,inh] ($(bSERPINE1.south)+(-1,0)$) -- ($(bPLAT.north east)+(4,-4)$);
\draw[bln,act] (bPLAU.east) -- (bPLAUR.west);
\draw[bln,act] (bPLAUR.east) -- (bCA.west |- bPLAUR.east);
\draw[bln,inh] ($(bSERPINA1.east)+(0,-3)$) -- ($(bPLG.north)+(-10,-21)$);
\draw[bln,act,rounded corners=5] ($(bPLG.north)+(-12,0)$) |- ($(bF12.north)+(7,-16)$) -- ($(bF12.north)+(7,0)$);
\draw[bln,act,rounded corners=5] (bPLAT.south west) -| (bPLG.north);
\draw[bln,act] (bF12.east) -- (bPLG.west);
\draw[bln,act,rounded corners=4] (bKLKB1.north |- bF12.east) -- (bKLKB1.north);
\draw[bln,act,rounded corners=5] (bKLKB1.west) -| ($(bF12.south)+(7,0)$);
\draw[bln,act,rounded corners=5] (bKLKB1.east) -| ($(bPLG.south)+(-8,0)$);
\draw[bln,act] (bKLKB1.south) -- (bKNG.north);
\draw[bln,rounded corners=5] (bKNG.west) -| ($(bF12.south)+(7,25)$);
\draw[bln,act] (bKNG.east) -- (bBrad.west);
\draw[bln,act] (bBrad.east) -- (bBDKR.west);
\draw[bdash,act] (bBDKR.east) -- ($(bBDKR.east)+(20,0)$);
\draw[bln,inh] ($(bSERPINF2.north)+(-2,0)$) -- ($(bPLG.south east)+(-12,4)$);
\draw[bln,act,rounded corners=8] (bPLG.east) -| (bClotJ);
\draw[bln,act,rounded corners=4] (bPLAU.south |- bPLG.east) -- (bPLAU.south);
\draw[bdash,act,rounded corners=5] (bF12.south) |- ($(bBF.west)+(-1,3)$);
\draw[bdash,act] (bPLG.south) -- ($(bPLG.south |- bConv.north)+(0,-4)$);
\draw[bdash,act] (bZym.east) -- (bZym.east -| bBF.west);
\draw[bln,inh] ($(bHF1.south)+(-1,0)$) -- ($(bBF.north)+(0,-5)$);
\draw[bln,act,rounded corners=5] ($(bConv.north)+(-8,-4)$) |- ($(bBF.east)+(2,7)$);
\draw[bln,act] (bC3.south east) -- ($(bConv.north west)+(5,-2)$);
\draw[bln,inh] (bIF.south) -- ($(bConv.north)+(10,-5)$);
\draw[bln,inh] ($(bMCP.south west)+(0,4)$) -- ($(bConv.north east)+(-1,-3)$);
\draw[bln,act] ($(bConv.east)+(-2,-7)$) -- (bC5.west);
\draw[bdash,act] (bC5.east) -- (bLysis.west);
\draw[bln,act] ($(bC8.south west)+(-1,0)$) .. controls +(0,12) and +(-10,0) .. ($(bC8.south west)+(13,20)$);
\draw[bln,inh] (bCD59.south) -- ($(bC9.north)+(-21,-4)$);
\draw[bln] (bMBL.east) -- (bMASP.west);
\draw[bln,act] (bMASP.east) -- ($(bC2.west)+(-2,5)$);
\draw[bln,act] (bC2.east) -- ($(bConv.west)+(2,4)$);
\draw[bln] (bAb.east) -- (bAb.east -| bC1Q.west);
\draw[bln,act] (bC1R.east) -- ($(bC4.west)+(-2,-3)$);
\draw[bln,inh] (bSERPING1.north) -- ($(bC1S.south)+(-2,6)$);
\draw[bln,inh] (bC4BP.north) -- ($(bC4.south)+(-8,5)$);
\draw[bln,act,rounded corners=5] ($(bC4.south east)+(-12,0)$) |- ($(bC3AR1.south west)+(-5,4)$);
\draw[bln,rounded corners=4] ($(bConv.south)+(6,0)$) |- ($(bConv.south)+(12,55)$);
\draw[bln,rounded corners=4] (bC5.south) |- ($(bC5.south)+(8,67)$);
\draw[bln,act,rounded corners=5] ($(bConv.south)+(-1,0)$) |- ($(bCR2.south west)+(-7,4)$);
\draw[bdash,act] ($(bMus.west)+(-32,1)$) -- ($(bMus.west)+(-3,1)$);
\draw[bln,dashed,-{Triangle[open,length=6pt,width=5pt]},rounded corners=3] (bCR2.east) -- ++(16,0) |- (bBcell.west);
\end{tikzpicture}
\end{document}
